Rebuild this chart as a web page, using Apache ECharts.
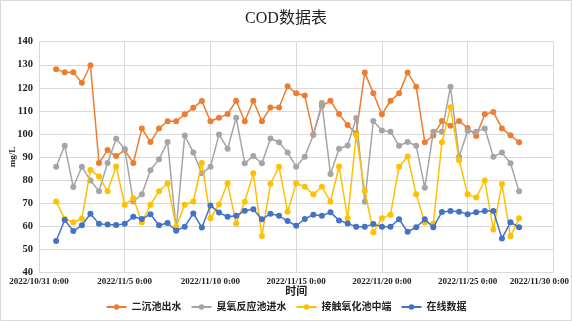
<!DOCTYPE html>
<html>
<head>
<meta charset="utf-8">
<script src="https://cdn.jsdelivr.net/npm/echarts@6/dist/echarts.min.js"></script>
<style>
  html, body { margin: 0; padding: 0; background: #fff; }
  #chart { width: 572px; height: 321px; }
</style>
</head>
<body>
<div id="chart"></div>
<script>
// ── Data ───────────────────────────────────────────────
const times = [
  '2022-11-01 00:00', '2022-11-01 12:00', '2022-11-02 00:00', '2022-11-02 12:00',
  '2022-11-03 00:00', '2022-11-03 12:00', '2022-11-04 00:00', '2022-11-04 12:00',
  '2022-11-05 00:00', '2022-11-05 12:00', '2022-11-06 00:00', '2022-11-06 12:00',
  '2022-11-07 00:00', '2022-11-07 12:00', '2022-11-08 00:00', '2022-11-08 12:00',
  '2022-11-09 00:00', '2022-11-09 12:00', '2022-11-10 00:00', '2022-11-10 12:00',
  '2022-11-11 00:00', '2022-11-11 12:00', '2022-11-12 00:00', '2022-11-12 12:00',
  '2022-11-13 00:00', '2022-11-13 12:00', '2022-11-14 00:00', '2022-11-14 12:00',
  '2022-11-15 00:00', '2022-11-15 12:00', '2022-11-16 00:00', '2022-11-16 12:00',
  '2022-11-17 00:00', '2022-11-17 12:00', '2022-11-18 00:00', '2022-11-18 12:00',
  '2022-11-19 00:00', '2022-11-19 12:00', '2022-11-20 00:00', '2022-11-20 12:00',
  '2022-11-21 00:00', '2022-11-21 12:00', '2022-11-22 00:00', '2022-11-22 12:00',
  '2022-11-23 00:00', '2022-11-23 12:00', '2022-11-24 00:00', '2022-11-24 12:00',
  '2022-11-25 00:00', '2022-11-25 12:00', '2022-11-26 00:00', '2022-11-26 12:00',
  '2022-11-27 00:00', '2022-11-27 12:00', '2022-11-28 00:00'
];

// 二沉池出水
const secClarifier = [
  128.0, 126.7, 126.7, 122.2, 129.8, 87.4, 93.0, 90.4, 93.0, 87.4,
  102.4, 96.5, 102.4, 105.5, 105.5, 108.5, 111.4, 114.3, 105.5, 107.0,
  108.6, 114.4, 105.5, 114.4, 105.5, 111.5, 111.5, 120.7, 117.6, 116.7,
  99.8, 112.2, 114.4, 108.6, 103.9, 100.2, 126.6, 117.6, 108.5, 114.4,
  117.6, 126.6, 120.5, 96.4, 99.3, 105.6, 103.5, 105.6, 102.6, 99.1,
  108.5, 109.5, 102.4, 99.4, 96.4
];

// 臭氧反应池进水
const ozoneInlet = [
  85.8, 94.9, 77.0, 85.8, 79.8, 75.2, 87.4, 97.9, 93.5, 70.7,
  73.8, 84.3, 89.0, 96.5, 58.8, 99.3, 92.0, 82.9, 85.8, 99.8,
  93.6, 107.0, 87.3, 90.4, 87.3, 98.0, 96.4, 91.9, 85.8, 90.1,
  99.5, 113.4, 82.6, 93.6, 95.0, 106.9, 70.6, 105.6, 101.5, 101.0,
  94.9, 96.5, 94.9, 76.7, 101.0, 101.0, 120.5, 90.1, 101.3, 101.0,
  102.4, 90.1, 91.9, 87.3, 75.1
];

// 接触氧化池中端
const contactMid = [
  70.7, 63.2, 61.7, 63.2, 84.4, 81.5, 75.2, 85.9, 69.3, 72.1,
  61.7, 69.3, 75.2, 78.5, 59.8, 69.3, 70.7, 87.4, 63.4, 69.4,
  78.6, 61.2, 70.6, 82.9, 55.7, 78.4, 85.8, 66.3, 78.6, 77.1,
  73.8, 77.1, 70.6, 85.9, 63.4, 99.5, 75.3, 57.4, 63.4, 65.0,
  85.8, 90.2, 73.8, 61.6, 61.0, 96.4, 111.6, 88.7, 73.8, 72.4,
  79.8, 58.6, 78.3, 55.6, 63.4
];

// 在线数据
const onlineData = [
  53.6, 62.7, 57.9, 60.4, 65.4, 61.0, 60.7, 60.5, 61.0, 64.1,
  63.1, 65.2, 60.4, 61.4, 58.0, 59.8, 65.5, 59.4, 69.0, 65.9,
  64.1, 64.5, 66.7, 67.3, 63.0, 65.4, 64.5, 62.2, 60.2, 63.1,
  65.0, 64.5, 66.0, 62.5, 61.2, 59.8, 59.8, 60.9, 59.8, 59.8,
  63.0, 57.6, 59.5, 63.0, 59.5, 66.2, 66.6, 66.3, 65.2, 66.0,
  66.6, 66.6, 54.7, 61.7, 59.5
];

const seriesNames  = ['二沉池出水', '臭氧反应池进水', '接触氧化池中端', '在线数据'];
const seriesColors = ['#ED7D31', '#A5A5A5', '#FFC000', '#4472C4'];
const xTickLabels  = [
  '2022/10/31 0:00', '2022/11/5 0:00', '2022/11/10 0:00', '2022/11/15 0:00',
  '2022/11/20 0:00', '2022/11/25 0:00', '2022/11/30 0:00'
];

// ── Helpers ────────────────────────────────────────────
const START_MS = Date.UTC(2022, 9, 31);
const DAY_MS   = 86400000;

// "2022-11-01 12:00" → days since 2022/10/31 0:00
function toDays(str) {
  const [d, t] = str.split(' ');
  const [y, mo, da] = d.split('-').map(Number);
  const [h, mi] = t.split(':').map(Number);
  return (Date.UTC(y, mo - 1, da, h, mi) - START_MS) / DAY_MS;
}

const xDays = times.map(toDays);
const FONT  = "'Liberation Serif', 'Noto Sans CJK SC', serif";

// ── Chart ──────────────────────────────────────────────
const chart = echarts.init(document.getElementById('chart'));

const allValues = [secClarifier, ozoneInlet, contactMid, onlineData];

chart.setOption({
  backgroundColor: '#FFFFFF',
  animation: false,
  graphic: [{
    type: 'rect',
    shape: { x: 0.5, y: 0.5, width: 571, height: 320 },
    style: { fill: 'none', stroke: '#D9D9D9', lineWidth: 1 },
    silent: true,
  }],
  title: {
    text: 'COD数据表',
    left: 'center',
    top: 6,
    textStyle: { fontFamily: FONT, fontSize: 16, fontWeight: 'normal', color: '#222' },
  },
  legend: {
    data: seriesNames,
    top: 297,
    left: 'center',
    itemWidth: 20,
    itemHeight: 7,
    itemGap: 9,
    textStyle: { fontFamily: FONT, fontSize: 10, fontWeight: 'bold', color: '#222' },
  },
  grid: { left: 31.7, right: 17.7, top: 41.7, bottom: 48.7 },
  xAxis: {
    type: 'value',
    min: 0,
    max: 30,
    interval: 5,
    name: '时间',
    nameLocation: 'middle',
    nameGap: 14,
    nameMoveOverlap: false,
    nameTextStyle: { fontFamily: FONT, fontSize: 11, fontWeight: 'bold', color: '#222' },
    axisLine: { show: false },
    axisTick: { show: false },
    splitLine: { show: true, lineStyle: { color: '#D9D9D9', width: 1 } },
    axisLabel: {
      fontFamily: FONT,
      fontSize: 9,
      fontWeight: 'bold',
      color: '#222',
      margin: 5,
      formatter: val => {
        const label = xTickLabels[Math.round(val / 5)] || '';
        return val === 30 ? '{last|' + label + '}' : label;
      },
      rich: { last: { fontFamily: FONT, fontSize: 9, fontWeight: 'bold', color: '#222', padding: [0, 28, 0, 0] } },
    },
  },
  yAxis: {
    type: 'value',
    min: 40,
    max: 140,
    interval: 10,
    name: 'mg/L',
    nameLocation: 'middle',
    nameGap: 22,
    nameRotate: 90,
    nameMoveOverlap: false,
    nameTextStyle: { fontFamily: FONT, fontSize: 9, fontWeight: 'bold', color: '#222' },
    axisLine: { show: false },
    axisTick: { show: false },
    splitLine: { show: true, lineStyle: { color: '#D9D9D9', width: 1 } },
    axisLabel: { fontFamily: FONT, fontSize: 10.5, fontWeight: 'bold', color: '#222', margin: 6 },
  },
  series: seriesNames.map((name, k) => ({
    name,
    type: 'line',
    data: xDays.map((x, i) => [x, allValues[k][i]]),
    symbol: 'circle',
    symbolSize: 6,
    showSymbol: true,
    lineStyle: { color: seriesColors[k], width: 1.5 },
    itemStyle: { color: seriesColors[k] },
    z: 2 + k,
  })),
});
</script>
</body>
</html>
